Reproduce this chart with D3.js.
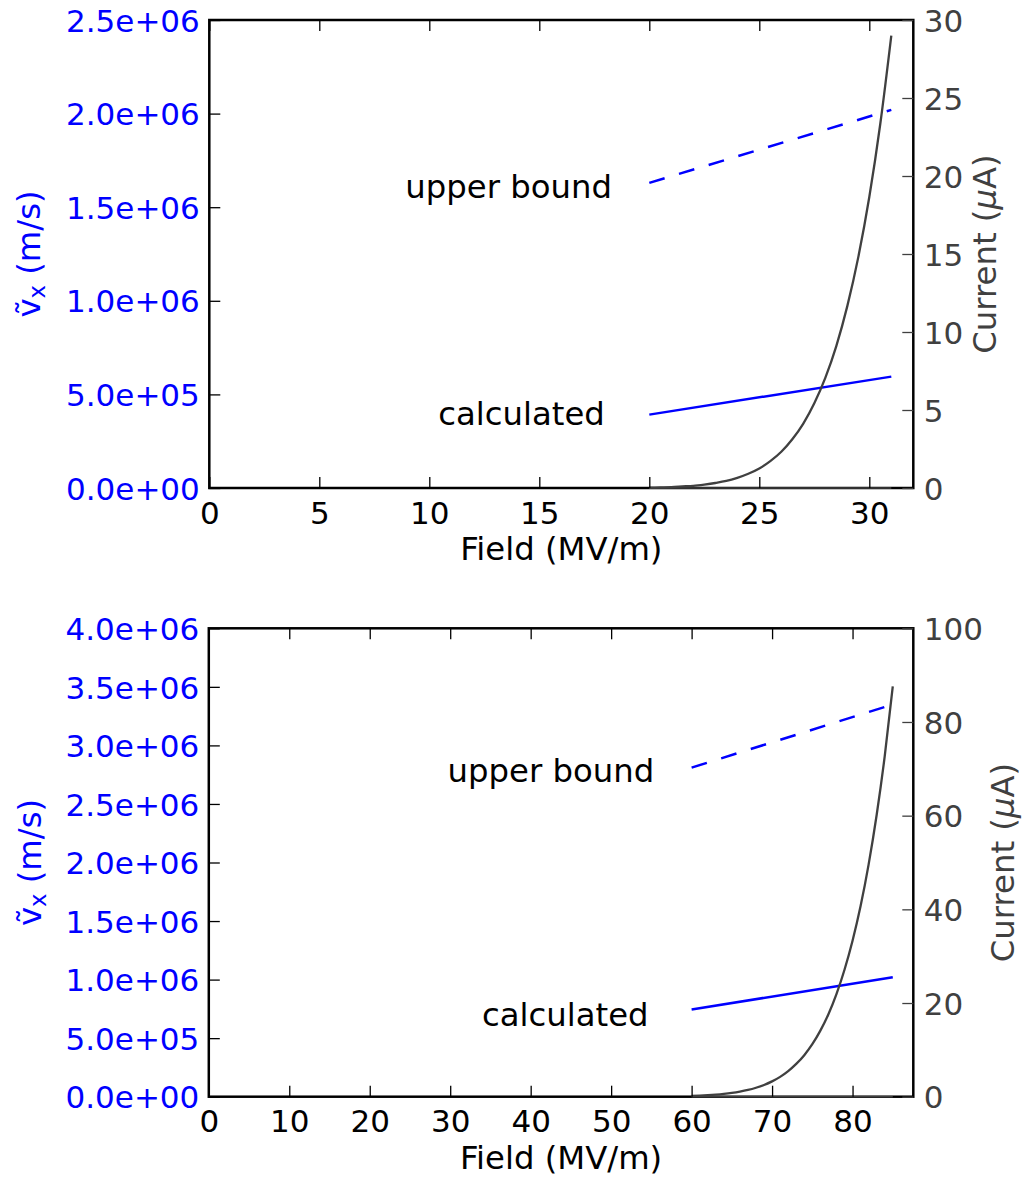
<!DOCTYPE html>
<html>
<head>
<meta charset="utf-8">
<script src="https://cdn.jsdelivr.net/npm/d3@7"></script>
<style>
  html, body { margin: 0; padding: 0; background: #ffffff; }
  svg text { font-family: "DejaVu Sans", sans-serif; }
</style>
</head>
<body>
<svg id="chart" width="1029" height="1179"></svg>
<script>
// ---- Panel 1: lower field range ----
const fieldTopCurrent = [20, 20.5, 21, 21.5, 22, 22.5, 23, 23.5, 24, 24.5, 25, 25.5, 26, 26.5, 27, 27.5, 28, 28.5, 29, 29.5, 30, 30.5, 31];
const currentTop = [0.02, 0.04, 0.06, 0.10, 0.14, 0.22, 0.32, 0.45, 0.65, 0.91, 1.25, 1.72, 2.32, 3.12, 4.13, 5.43, 7.06, 9.10, 11.66, 14.80, 18.65, 23.35, 29.0];
const fieldTopVel = [20, 31];
const velCalcTop = [3.92e5, 5.95e5];
const velUpperTop = [1.63e6, 2.02e6];
const currentBaseTop = [0, 0];
const xTicksTop = [0, 5, 10, 15, 20, 25, 30];
const xTickLabelsTop = ["0", "5", "10", "15", "20", "25", "30"];
const vTicksTop = [0, 5e5, 1e6, 1.5e6, 2e6, 2.5e6];
const vTickLabelsTop = ["0.0e+00", "5.0e+05", "1.0e+06", "1.5e+06", "2.0e+06", "2.5e+06"];
const iTicksTop = [0, 5, 10, 15, 20, 25, 30];
const iTickLabelsTop = ["0", "5", "10", "15", "20", "25", "30"];

// ---- Panel 2: higher field range ----
const fieldBotCurrent = [60, 61, 62, 63, 64, 65, 66, 67, 68, 69, 70, 71, 72, 73, 74, 75, 76, 77, 78, 79, 80, 81, 82, 83, 84, 85];
const currentBot = [0.16, 0.22, 0.31, 0.43, 0.59, 0.80, 1.08, 1.44, 1.91, 2.50, 3.27, 4.23, 5.46, 7.00, 8.87, 11.2, 14.1, 17.6, 21.9, 27.1, 33.3, 40.7, 49.6, 60.2, 72.7, 87.6];
const fieldBotVel = [60, 85];
const velCalcBot = [7.45e5, 1.02e6];
const velUpperBot = [2.81e6, 3.35e6];
const currentBaseBot = [0, 0];
const xTicksBot = [0, 10, 20, 30, 40, 50, 60, 70, 80];
const xTickLabelsBot = ["0", "10", "20", "30", "40", "50", "60", "70", "80"];
const vTicksBot = [0, 5e5, 1e6, 1.5e6, 2e6, 2.5e6, 3e6, 3.5e6, 4e6];
const vTickLabelsBot = ["0.0e+00", "5.0e+05", "1.0e+06", "1.5e+06", "2.0e+06", "2.5e+06", "3.0e+06", "3.5e+06", "4.0e+06"];
const iTicksBot = [0, 20, 40, 60, 80, 100];
const iTickLabelsBot = ["0", "20", "40", "60", "80", "100"];

// annotation text anchors (field, velocity)
const labelsTop = [
  { text: "upper bound", field: 18.3, vel: 1.55e6 },
  { text: "calculated", field: 17.98, vel: 3.35e5 }
];
const labelsBot = [
  { text: "upper bound", field: 55.35, vel: 2.69e6 },
  { text: "calculated", field: 54.65, vel: 6.08e5 }
];

const BLUE = "#0000ff";
const GREY = "#404040";
const FS = 31;      // tick labels
const FS_T = 32.3;  // axis titles and annotations

const svg = d3.select("#chart");

function drawPanel(p) {
  const g = svg.append("g");
  const x = d3.scaleLinear().domain(p.xDomain).range([p.left, p.right]);
  const yV = d3.scaleLinear().domain(p.vDomain).range([p.bottom, p.top]);
  const yI = d3.scaleLinear().domain(p.iDomain).range([p.bottom, p.top]);

  const clipId = "clip" + p.id;
  svg.append("defs").append("clipPath").attr("id", clipId)
    .append("rect").attr("x", p.left).attr("y", p.top - 2)
    .attr("width", p.right - p.left).attr("height", p.bottom - p.top + 4);

  const plot = g.append("g").attr("clip-path", `url(#${clipId})`);

  // velocity lines (left axis)
  const lineV = d3.line().x(d => x(d[0])).y(d => yV(d[1]));
  plot.append("path")
    .attr("d", lineV(d3.zip(p.fieldVel, p.velCalc)))
    .attr("fill", "none").attr("stroke", BLUE).attr("stroke-width", 2.5);
  plot.append("path")
    .attr("d", lineV(d3.zip(p.fieldVel, p.velUpper)))
    .attr("fill", "none").attr("stroke", BLUE).attr("stroke-width", 2.5)
    .attr("stroke-dasharray", "16,15");

  // frame (spines)
  g.append("rect")
    .attr("x", p.left).attr("y", p.top)
    .attr("width", p.right - p.left).attr("height", p.bottom - p.top)
    .attr("fill", "none").attr("stroke", "#000").attr("stroke-width", 2.5);

  // current curves (right axis)
  const lineI = d3.line().x(d => x(d[0])).y(d => yI(d[1])).curve(d3.curveMonotoneX);
  g.append("path")
    .attr("d", lineI(d3.zip(p.fieldVel, p.currentBase)))
    .attr("fill", "none").attr("stroke", GREY).attr("stroke-width", 1.6);
  g.append("path")
    .attr("d", lineI(d3.zip(p.fieldCurrent, p.current)))
    .attr("fill", "none").attr("stroke", GREY).attr("stroke-width", 2.3);

  // axes
  const styleAxis = (sel, color, tickColor) => {
    sel.select(".domain").remove();
    sel.selectAll(".tick line").attr("stroke", tickColor).attr("stroke-width", 1.3);
    sel.selectAll(".tick text").attr("fill", color).attr("font-size", FS)
      .attr("font-family", "DejaVu Sans");
  };

  const axB = g.append("g").attr("transform", `translate(0,${p.bottom})`)
    .call(d3.axisBottom(x).tickValues(p.xTicks).tickFormat((d, i) => p.xTickLabels[i])
      .tickSizeInner(-11).tickSizeOuter(0).tickPadding(13.5));
  styleAxis(axB, "#000", "#000");

  const axT = g.append("g").attr("transform", `translate(0,${p.top})`)
    .call(d3.axisTop(x).tickValues(p.xTicks).tickFormat("").tickSizeInner(-11).tickSizeOuter(0));
  styleAxis(axT, "#000", "#000");

  const axL = g.append("g").attr("transform", `translate(${p.left},0)`)
    .call(d3.axisLeft(yV).tickValues(p.vTicks).tickFormat((d, i) => p.vTickLabels[i])
      .tickSizeInner(-11).tickSizeOuter(0).tickPadding(9.5));
  styleAxis(axL, BLUE, "#000");
  axL.selectAll(".tick text").attr("dy", "0.36em");

  const axR = g.append("g").attr("transform", `translate(${p.right},0)`)
    .call(d3.axisRight(yI).tickValues(p.iTicks).tickFormat((d, i) => p.iTickLabels[i])
      .tickSizeInner(-11).tickSizeOuter(0).tickPadding(10.5));
  styleAxis(axR, GREY, GREY);
  axR.selectAll(".tick text").attr("dy", "0.36em");

  // axis titles
  const midX = (p.left + p.right) / 2;
  const midY = (p.top + p.bottom) / 2;
  g.append("text").attr("x", midX).attr("y", p.bottom + 72)
    .attr("text-anchor", "middle").attr("font-size", FS_T).attr("fill", "#000")
    .text("Field (MV/m)");

  const vl = g.append("text")
    .attr("transform", `translate(${p.vLabelX},${midY}) rotate(-90)`)
    .attr("text-anchor", "middle").attr("font-size", FS_T).attr("fill", BLUE);
  vl.append("tspan").text("\u1E7D");
  vl.append("tspan").attr("font-size", FS_T * 0.7).attr("dy", 5).text("x");
  vl.append("tspan").attr("dy", -5).text(" (m/s)");

  const il = g.append("text")
    .attr("transform", `translate(${p.iLabelX},${midY}) rotate(-90)`)
    .attr("text-anchor", "middle").attr("font-size", FS_T).attr("fill", GREY);
  il.append("tspan").text("Current (");
  il.append("tspan").attr("font-style", "italic").text("\u03BC");
  il.append("tspan").text("A)");

  // annotations
  p.labels.forEach(l => {
    g.append("text").attr("x", x(l.field)).attr("y", yV(l.vel))
      .attr("text-anchor", "end").attr("font-size", FS_T).attr("fill", "#000")
      .text(l.text);
  });
}

drawPanel({
  id: "top",
  left: 209.3, right: 913.3, top: 20, bottom: 488,
  xDomain: [0, 32], vDomain: [0, 2.5e6], iDomain: [0, 30],
  xTicks: xTicksTop, xTickLabels: xTickLabelsTop,
  vTicks: vTicksTop, vTickLabels: vTickLabelsTop,
  iTicks: iTicksTop, iTickLabels: iTickLabelsTop,
  fieldCurrent: fieldTopCurrent, current: currentTop,
  fieldVel: fieldTopVel, velCalc: velCalcTop, velUpper: velUpperTop,
  currentBase: currentBaseTop,
  labels: labelsTop,
  vLabelX: 40, iLabelX: 996
});

drawPanel({
  id: "bot",
  left: 208.8, right: 913.3, top: 628.3, bottom: 1096.7,
  xDomain: [0, 87.55], vDomain: [0, 4e6], iDomain: [0, 100],
  xTicks: xTicksBot, xTickLabels: xTickLabelsBot,
  vTicks: vTicksBot, vTickLabels: vTickLabelsBot,
  iTicks: iTicksBot, iTickLabels: iTickLabelsBot,
  fieldCurrent: fieldBotCurrent, current: currentBot,
  fieldVel: fieldBotVel, velCalc: velCalcBot, velUpper: velUpperBot,
  currentBase: currentBaseBot,
  labels: labelsBot,
  vLabelX: 41, iLabelX: 1014
});
</script>
</body>
</html>
